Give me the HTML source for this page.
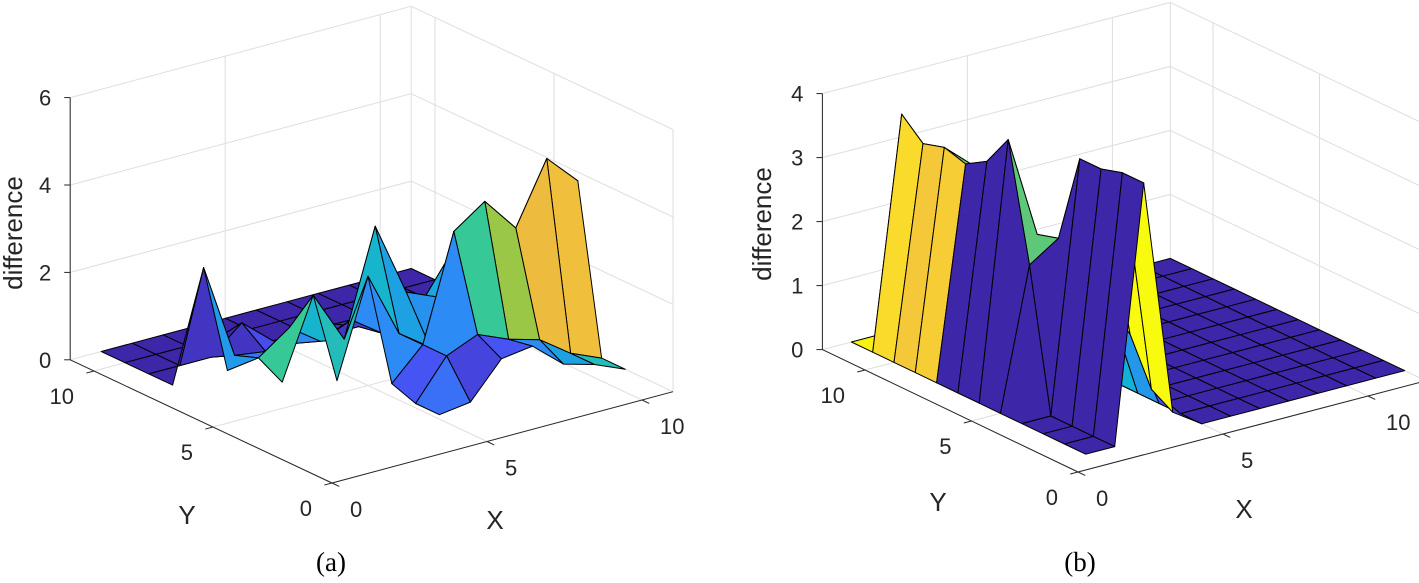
<!DOCTYPE html>
<html><head><meta charset="utf-8"><style>
html,body{margin:0;padding:0;background:#fff;}
svg{display:block;}
text{font-family:"Liberation Sans",Arial,sans-serif;fill:#262626;}
</style></head><body>
<svg id="fig" width="1419" height="583" viewBox="0 0 1419 583" xmlns="http://www.w3.org/2000/svg">
<rect x="0" y="0" width="1419" height="583" fill="#fff"/>
<g id="pa"></g>
<g id="pb"></g>
</svg>
<script>
const n = null;
// ---- Panel (a) data (rows: y = 1..11, cols: x = 1..11; null = no data) ----
const xGridA = [1,2,3,4,5,6,7,8,9,10,11];
const yGridA = [1,2,3,4,5,6,7,8,9,10,11];
const zA = [
 [n,n,n,n,n,n,n,n,n,n,n],
 [n,n,n,n,0.1,0.2,1.0,1.1,0.5,0.3,0],
 [n,n,n,n,0.1,1.0,1.3,1.0,0.8,0.3,0],
 [n,n,n,n,0.3,1.0,3.4,3.9,3.1,4.5,3.8],
 [n,n,n,0.3,2.5,1.0,0.5,1.0,2.0,1.8,0.5],
 [n,n,0.2,2.0,0.8,3.2,1.5,1.2,2.5,2.0,0.5],
 [n,0.4,0.5,1.0,0.5,0.8,0.3,0.5,1.5,1.0,0.3],
 [0,2.5,0.3,0.2,0.2,0.2,0.2,0.2,0.2,0.2,0],
 [0,0,0,0.6,0,0,0,0,0,0,0],
 [0,0,0,0,0,0,0,0,0,0,0],
 [0,0,0,0,0,0,0,0,0,0,0]
];
// colour data for panel (a) faces
const cA = [
 [0,0,0,0,0,0,0,0,0,0,0],
 [0,0,0,0,0.9,0.4,0.6,1.2,1.5,2.0,0],
 [0,0,0,0,0.6,1.2,2.3,2.9,3.5,3.6,1.6],
 [0,0,0,0,1.2,1.5,1.7,2.1,2.8,4.6,3.0],
 [0,0,0,2.0,1.8,1.5,1.3,1.6,1.9,2.5,0],
 [0,0,2.3,1.8,0.2,1.2,1.6,1.6,1.3,1.0,0],
 [0,1.4,1.0,1.2,2.2,0.3,0.3,1.0,1.0,0.5,0],
 [0,0.2,0.2,0.5,0.2,0.2,0.2,0.2,0.2,0.2,0],
 [0,0,0,0,0,0,0,0,0,0,0],
 [0,0,0,0,0,0,0,0,0,0,0],
 [0,0,0,0,0,0,0,0,0,0,0]
];
const xyTicksA = [0,5,10];
const zTicksA = [0,2,4,6];
// ---- Panel (b) data (rows: y = 1..12, cols: x = 1..12) ----
const xGridB = [1,2,3,4,5,6,7,8,9,10,11,12];
const yGridB = [1,2,3,4,5,6,7,8,9,10,11,12];
const zB = [
 [0,0,4.0,0.3,0,0,0,0,0,0,0,0],
 [0,0,4.0,0.5,0,0,0,0,0,0,0,0],
 [0,0,3.9,1.2,0,0,0,0,0,0,0,0],
 [0,0,3.9,1.5,0,0,0,0,0,0,0,0],
 [0,2.2,2.5,0,0,0,0,0,0,0,0,0],
 [0,4.0,2.4,0,0,0,0,0,0,0,0,0],
 [0,3.5,2.6,0,0,0,0,0,0,0,0,0],
 [0,3.3,2.8,0,0,0,0,0,0,0,0,0],
 [0,3.4,3.0,0,0,0,0,0,0,0,0,0],
 [0,3.3,2.5,0,0,0,0,0,0,0,0,0],
 [0,3.6,0,0,0,0,0,0,0,0,0,0],
 [0,0,0,0,0,0,0,0,0,0,0,0]
];
// colour data for panel (b) faces
const cB = [
 [0,0,4.0,0.3,0,0,0,0,0,0,0,0],
 [0,0,4.0,0.5,0,0,0,0,0,0,0,0],
 [0,0,3.9,1.2,0,0,0,0,0,0,0,0],
 [0,0,3.9,1.5,0,0,0,0,0,0,0,0],
 [0,2.2,2.5,0,0,0,0,0,0,0,0,0],
 [0,2.2,0,0,0,0,0,0,0,0,0,0],
 [0,2.4,0,0,0,0,0,0,0,0,0,0],
 [3.4,2.3,0,0,0,0,0,0,0,0,0,0],
 [3.3,3.3,0,0,0,0,0,0,0,0,0,0],
 [3.6,3.4,0,0,0,0,0,0,0,0,0,0],
 [3.9,3.6,0,0,0,0,0,0,0,0,0,0],
 [0,0,0,0,0,0,0,0,0,0,0,0]
];
const xyTicksB = [0,5,10];
const zTicksB = [0,1,2,3,4];

const NS = "http://www.w3.org/2000/svg";
const PAR = [[0,[62,38,168]],[0.125,[72,82,244]],[0.25,[46,135,247]],[0.375,[18,177,214]],[0.5,[55,200,151]],[0.625,[150,200,70]],[0.75,[236,186,64]],[0.875,[250,210,50]],[1,[249,251,14]]];
function parula(t){
  t=Math.max(0,Math.min(1,t));
  for(let k=1;k<PAR.length;k++){
    if(t<=PAR[k][0]){
      const a=PAR[k-1],b=PAR[k],f=(t-a[0])/(b[0]-a[0]);
      return 'rgb('+a[1].map((v,i)=>Math.round(v+(b[1][i]-v)*f)).join(',')+')';
    }
  }
  return 'rgb(249,251,14)';
}
function mk(tag,attrs,parent){
  const e=document.createElementNS(NS,tag);
  for(const k in attrs) e.setAttribute(k,attrs[k]);
  parent.appendChild(e);
  return e;
}
function drawPanel(g,cfg,xs,ys,Z,C,xyTicks,zTicks){
  const P=(x,y,z)=>[cfg.C[0]+x*cfg.Ex[0]+y*cfg.Ey[0], cfg.C[1]+x*cfg.Ex[1]+y*cfg.Ey[1]-z*cfg.kz];
  const L=(a,b,stroke,w,name)=>{
    const l=mk('line',{x1:a[0],y1:a[1],x2:b[0],y2:b[1],stroke:stroke,'stroke-width':w},g);
    
    
  };
  const X=cfg.xmax,Y=cfg.ymax,ZM=cfg.zmax,gc='#dedede';
  zTicks.forEach(z=>{
    L(P(0,Y,z),P(X,Y,z),gc,1,'grid-line');
    L(P(X,0,z),P(X,Y,z),gc,1,'grid-line');
  });
  xyTicks.forEach(v=>{
    L(P(v,Y,0),P(v,Y,ZM),gc,1,'grid-line');
    L(P(v,0,0),P(v,Y,0),gc,1,'grid-line');
    L(P(X,v,0),P(X,v,ZM),gc,1,'grid-line');
    L(P(0,v,0),P(X,v,0),gc,1,'grid-line');
  });
  L(P(X,Y,0),P(X,Y,ZM),gc,1,'grid-line');
  const cs=C.flat().filter(v=>v!==null), cmin=Math.min(...cs), cmax=Math.max(...cs);
  const faces=[];
  for(let j=0;j<ys.length-1;j++){
    for(let i=0;i<xs.length-1;i++){
      const zz=[Z[j][i],Z[j][i+1],Z[j+1][i+1],Z[j+1][i]];
      if(zz.some(v=>v===null)) continue;
      const pts=[[xs[i],ys[j],zz[0]],[xs[i+1],ys[j],zz[1]],[xs[i+1],ys[j+1],zz[2]],[xs[i],ys[j+1],zz[3]]];
      const cx=(xs[i]+xs[i+1])/2, cy=(ys[j]+ys[j+1])/2;
      const depth=-(cfg.Ex[1]*cx+cfg.Ey[1]*cy);
      faces.push({pts,depth,c:C[j][i]});
    }
  }
  faces.sort((a,b)=>b.depth-a.depth);
  faces.forEach(f=>{
    const d=f.pts.map(p=>P(p[0],p[1],p[2]).map(v=>v.toFixed(1)).join(',')).join(' ');
    const poly=mk('polygon',{points:d,fill:parula((f.c-cmin)/(cmax-cmin||1)),stroke:'#000','stroke-width':1,'stroke-linejoin':'round'},g);
    
    
  });
  const ac='#262626';
  L(P(0,Y,0),P(0,Y,ZM),ac,1,'z-axis-line');
  L(P(0,Y,0),P(0,0,0),ac,1,'y-axis-line');
  L(P(0,0,0),P(X,0,0),ac,1,'x-axis-line');
  const nx=Math.hypot(...cfg.Ex), ny=Math.hypot(...cfg.Ey);
  zTicks.forEach(z=>{
    const p=P(0,Y,z);
    L(p,[p[0]-6,p[1]],ac,1,'z-tick');
    const t=mk('text',{x:p[0]-19,y:p[1]+8,'text-anchor':'end','font-size':22},g);
    t.textContent=z;
    
    
  });
  xyTicks.forEach(v=>{
    const p=P(0,v,0);
    L(p,[p[0]-cfg.Ex[0]/nx*8,p[1]-cfg.Ex[1]/nx*8],ac,1,'y-tick');
    const t=mk('text',{x:p[0]-20,y:p[1]+33,'text-anchor':'end','font-size':22},g);
    t.textContent=v;
    
    
    const q=P(v,0,0);
    L(q,[q[0]-cfg.Ey[0]/ny*8,q[1]-cfg.Ey[1]/ny*8],ac,1,'x-tick');
    const u=mk('text',{x:q[0]+18,y:q[1]+34,'text-anchor':'start','font-size':22},g);
    u.textContent=v;
    
    
  });
  const zl=mk('text',{x:0,y:0,'text-anchor':'middle','font-size':26,transform:'translate('+(cfg.zl[0]+9)+','+cfg.zl[1]+') rotate(-90)'},g);
  zl.textContent='difference';
  
  
  const yl=mk('text',{x:cfg.yl[0],y:cfg.yl[1]+9,'text-anchor':'middle','font-size':26},g);
  yl.textContent='Y';
  
  
  const xl=mk('text',{x:cfg.xl[0],y:cfg.xl[1]+9,'text-anchor':'middle','font-size':26},g);
  xl.textContent='X';
  
  
  const cap=mk('text',{x:cfg.cap[0],y:cfg.cap[1]+9,'text-anchor':'middle','font-size':27,style:'font-family:"Liberation Serif",serif;fill:#000'},g);
  cap.textContent=cfg.capText;
  
  
}
drawPanel(document.getElementById('pa'),
  {C:[332,483],Ex:[31,-8.3],Ey:[-23.8,-11.2],kz:43.7,xmax:11,ymax:11,zmax:6,zl:[13,233],yl:[187,515],xl:[495,520],cap:[331,562],capText:'(a)'},
  xGridA,yGridA,zA,cA,xyTicksA,zTicksA);
drawPanel(document.getElementById('pb'),
  {C:[1078,472],Ex:[29.0,-7.6],Ey:[-21.3,-10.2],kz:64,xmax:12,ymax:12,zmax:4,zl:[762,224],yl:[938,502],xl:[1244,509],cap:[1080,562],capText:'(b)'},
  xGridB,yGridB,zB,cB,xyTicksB,zTicksB);
</script>
</body></html>
